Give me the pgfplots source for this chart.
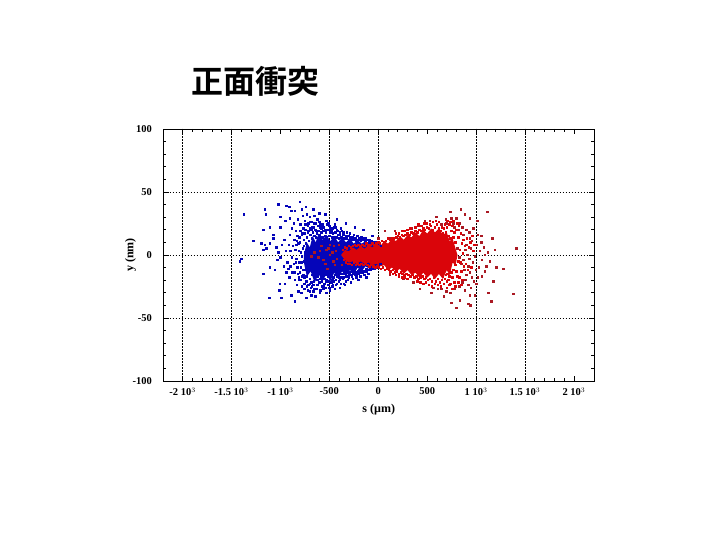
\documentclass[border=0pt]{standalone}
\usepackage{fontspec}
\setmainfont{Liberation Serif}
\newfontfamily\cjk{Noto Sans CJK JP}[BoldFont=* Bold]
\usepackage{pgfplots}
\pgfplotsset{compat=1.18}
\definecolor{bluepts}{RGB}{5,5,185}
\definecolor{redpts}{RGB}{218,5,10}
\definecolor{redrim}{RGB}{170,25,35}
\pgfplotsset{pts/.style={only marks,color=#1,mark=square*,mark size=0.75bp,mark options={line width=0pt,solid}}}
\begin{document}
\begin{tikzpicture}[x=1bp,y=1bp]
\path[fill=white] (0,0) rectangle (720,540);
\node[anchor=center,font=\cjk\bfseries\fontsize{32bp}{32bp}\selectfont] at (255.5,458.5) {正面衝突};
\begin{axis}[
  at={(163.5bp,159bp)},anchor=south west,
  scale only axis,width=430.5bp,height=252bp,
  xmin=-2195,xmax=2205,ymin=-100,ymax=100,
  axis line style={line width=0.9pt},
  xtick={-2000,-1500,-1000,-500,0,500,1000,1500,2000},
  xticklabels={-2 10$^3$,-1.5 10$^3$,-1 10$^3$,-500,0,500,1 10$^3$,1.5 10$^3$,2 10$^3$},
  ytick={-100,-50,0,50,100},
  yticklabels={-100,-50,0,50,100},
  minor x tick num=4,minor y tick num=4,
  tick align=inside,tick pos=both,
  major tick length=5bp,minor tick length=2.8bp,
  tick style={black,line width=0.7pt},
  extra x ticks={-2000,-1500,-500,0,1000,1500},
  extra x tick labels={},
  extra x tick style={grid=major},
  ymajorgrids,
  grid style={black,line width=0.7pt,dash pattern=on 1.5bp off 1.5bp},
  ticklabel style={font=\bfseries\fontsize{10.5bp}{11bp}\selectfont},
  xticklabel style={yshift=-3bp},
  yticklabel style={xshift=-8bp},
  xlabel={s (µm)},ylabel={y (nm)},
  label style={font=\bfseries\fontsize{12bp}{13bp}\selectfont},
  xlabel style={at={(axis description cs:0.5,0)},anchor=center,yshift=-29bp},
  ylabel style={at={(axis description cs:0,0.5)},anchor=center,yshift=33bp},
  clip=true,
]
% dense blue body
\addplot[fill=bluepts,draw=none] coordinates {(-760,0)(-730,10)(-700,6)(-670,15)(-640,10)(-610,17)(-570,12)(-530,16)(-490,11)(-450,15)(-410,10)(-370,14)(-330,10)(-290,13)(-250,9)(-210,12)(-170,9)(-130,11)(-90,8)(-50,10)(-10,7)(20,8)
(20,-7)(-10,-9)(-50,-8)(-90,-11)(-130,-9)(-170,-13)(-210,-10)(-250,-15)(-290,-12)(-330,-17)(-370,-13)(-410,-19)(-450,-14)(-490,-21)(-530,-15)(-570,-21)(-610,-15)(-650,-22)(-690,-13)(-730,-17)(-760,-6)} -- cycle;
% blue points
\addplot[pts=bluepts] coordinates {
(-1373,32)(-1158,36)(-1022,40)(-937,39)(-909,38)(-800,42)(-739,38)(-885,35)(-851,35)(-1148,32)
(-1175,20)(-1107,22)(-998,22)(-1073,16)(-1073,13)(-1192,9)(-1158,8)(-1277,11)(-1107,9)(-1175,4)
(-1141,5)(-1397,-3)(-1414,-5)(-1175,-15)(-1107,-10)(-1056,-12)(-1114,-34)(-988,-34)(-1012,-28)(-954,-23)
(-1005,-23)(-886,-32)(-851,-37)(-817,-29)(-783,-30)(-732,-34)(-681,-32)(-596,-30)(-494,-28)(-391,-26)
(-1040,6)(-1020,2)(-1000,-2)(-1030,-4)(-985,8)(-960,12)(-945,3)(-930,-6)(-965,-9)(-940,-14)
(-905,-18)(-920,-11)(-900,16)(-880,21)(-860,25)(-840,19)(-820,28)(-795,24)(-770,31)(-750,27)
(-720,23)(-700,30)(-680,26)(-650,31)(-620,28)(-590,24)(-560,22)(-530,27)(-500,23)(-470,21)
(-440,24)(-410,19)(-380,21)(-350,18)(-320,18)(-290,17)(-250,16)(-210,15)(-170,14)(-130,13)
(-90,12)(-910,8)(-895,3)(-880,-2)(-870,7)(-860,-7)(-855,12)(-845,4)(-835,-3)(-825,-10)
(-815,9)(-805,14)(-800,-14)(-790,2)(-785,-6)(-775,17)(-770,-12)(-760,7)(-755,-18)(-745,20)
(-740,-3)(-735,-21)(-725,-9)(-720,18)(-715,-24)(-700,21)(-690,-26)(-670,22)(-660,-24)(-640,20)
(-630,-27)(-610,23)(-600,-22)(-580,21)(-570,-25)(-550,-23)(-530,-21)(-510,-24)(-480,-22)(-450,-21)
(-420,-23)(-390,-20)(-360,-19)(-330,-21)(-300,-18)(-270,-17)(-240,-16)(-200,-15)(-160,-14)(-120,-13)
(-80,-12)(-40,-11)(-895,-9)(-875,-14)(-850,-20)(-830,-24)(-810,-20)(-780,-25)(-755,-27)(-720,-28)
(-660,-29)(-640,-33)(-560,-27)(-530,-30)(-440,-27)(-340,-24)(-280,-22)(-200,-20)(-120,-18)(-1000,30)
(-950,27)(-900,29)(-780,36)(-730,32)(-660,36)(-600,33)(-540,32)(-420,28)(-330,25)(-240,22)
(-150,20)(-60,15)
(-830,11)(-812,3)(-806,-6)(-798,10)(-790,-10)(-782,16)(-778,-1)(-770,5)(-765,-16)(-760,12)
(-755,-5)(-750,17)(-746,2)(-742,-12)(-738,9)(-733,-17)(-730,14)(-726,-2)(-722,6)(-718,-14)
(-714,19)(-710,-7)(-706,11)(-702,1)(-698,-19)(-694,16)(-690,-11)(-686,5)(-682,-4)(-678,13)
(-674,-16)(-670,8)(-666,18)(-662,-8)(-658,-21)(-654,3)(-650,15)(-646,-18)(-642,-11)(-638,19)
(-634,14)(-630,-16)(-626,17)(-622,-20)(-618,13)(-614,-17)(-610,19)(-604,-15)(-600,16)(-596,-19)
(-590,14)(-586,-17)(-580,18)(-574,-21)(-570,14)(-564,-16)(-558,19)(-552,-19)(-546,15)(-540,-16)
(-534,18)(-528,-20)(-522,14)(-516,-17)(-510,20)(-504,-21)(-498,15)(-492,-18)(-486,18)(-480,-16)
(-474,14)(-468,-20)(-462,17)(-456,-18)(-450,14)(-444,-16)(-438,18)(-432,-20)(-426,14)(-420,-17)
(-414,16)(-408,-15)(-402,13)(-396,-18)(-390,16)(-384,-15)(-378,14)(-372,-18)(-366,13)(-360,-15)
(-354,16)(-348,-18)(-342,13)(-336,-15)(-330,15)(-324,-17)(-318,13)(-312,-14)(-306,15)(-300,-16)
(-294,12)(-288,-14)(-282,14)(-276,-16)(-270,12)(-264,-13)(-258,14)(-252,-15)(-246,12)(-240,-13)
(-234,13)(-228,-14)(-222,11)(-216,-16)(-210,12)(-204,-13)(-198,13)(-192,-12)(-186,12)(-180,-14)
(-174,11)(-168,-12)(-162,13)(-156,-14)(-150,12)(-140,-13)(-130,11)(-120,-11)(-110,12)(-100,-12)
(-90,10)(-80,-10)(-70,11)(-60,-11)(-50,10)(-40,-9)(-30,10)(-20,-10)(-10,9)(0,-9)(10,10)(25,-7)(30,7)
(-850,-14)(-842,-6)(-835,8)(-825,15)(-818,-15)(-808,-18)(-796,19)(-788,-20)(-776,-17)(-766,21)(-752,-23)(-742,24)(-728,-25)(-712,25)(-696,-23)(-676,-25)(-656,25)(-636,25)(-616,-24)(-592,22)(-576,-20)(-556,-25)(-518,24)(-492,21)(-462,-24)(-430,22)(-400,-21)(-370,19)
(-700,26)(-680,20)(-660,22)(-620,19)(-600,26)(-570,24)(-540,20)(-510,25)(-480,19)(-450,22)(-420,20)(-390,18)(-360,17)
(-700,-29)(-680,-22)(-650,-27)(-625,-24)(-590,-28)(-540,-26)(-500,-26)(-470,-25)(-430,-24)(-380,-23)(-350,-23)(-310,-20)(-260,-19)(-220,-18)(-180,-17)(-140,-16)(-100,-15)
};
% dense red body
\addplot[fill=redpts,draw=none] coordinates {(-380,0)(-340,4)(-300,3)(-260,6)(-220,4)(-180,7)(-140,5)(-100,8)(-60,6)(-20,9)(20,7)(60,11)(100,9)(140,13)(180,11)(220,15)(260,12)(300,16)(340,14)(380,18)(420,15)(460,20)(500,17)(540,21)(580,18)(620,21)(660,16)(700,18)(730,11)(760,13)(790,5)(810,0)
(790,-8)(760,-6)(730,-16)(700,-12)(660,-19)(620,-15)(580,-19)(540,-15)(500,-18)(460,-14)(420,-18)(380,-14)(340,-16)(300,-12)(260,-15)(220,-11)(180,-13)(140,-10)(100,-12)(60,-8)(20,-9)(-20,-7)(-60,-8)(-100,-6)(-140,-7)(-180,-5)(-220,-7)(-260,-5)(-300,-6)(-340,-4)} -- cycle;
% red points
\addplot[pts=redrim] coordinates {
(740,34)(845,36)(1115,34)(597,30)(477,27)(528,27)(409,23)(341,21)(171,19)(68,19)
(0,13)(119,13)(188,14)(801,29)(886,32)(835,25)(767,25)(699,25)(648,24)(937,29)
(1012,27)(971,21)(1057,15)(1169,13)(1057,10)(1193,4)(1006,8)(937,13)(903,8)(869,16)
(1415,5)(1040,3)(1091,0)(1142,-5)(1210,-10)(1278,-11)(1108,-9)(1091,-13)(1176,-21)(1006,-23)
(920,-24)(886,-28)(937,-32)(1380,-31)(1159,-37)(1125,-30)(989,-32)(835,-36)(750,-38)(801,-42)
(920,-39)(944,-40)(699,-29)(648,-27)(563,-26)(545,-30)(426,-27)(358,-22)(119,-16)(256,-19)
(-596,3)(-528,4)(-494,0)(-562,-4)(-460,-5)(-681,-1)(-494,8)(-430,3)(-420,-3)(-650,2)
(-610,-2)(-580,7)(-540,-7)(-510,5)(-470,2)(-450,7)(-440,-8)(-520,-11)(-400,8)(-370,-8)
(690,28)(750,29)(780,22)(820,20)(860,22)(900,20)(930,18)(960,11)(1020,16)(1080,6)
(1120,2)(1060,-4)(1030,-10)(1060,-17)(780,-27)(740,-30)(830,-25)(860,-22)(890,-20)(950,-26)
(1020,-18)(610,-27)(670,-33)(810,5)(830,-2)(850,-7)(870,-4)(890,4)(910,0)(930,-3)
(950,5)(970,-6)(990,-1)(880,-12)(900,-16)(920,-9)(940,-14)(960,-18)(980,-21)(1000,-12)
};
\addplot[pts=redpts] coordinates {
(-360,4)(-350,-4)(-340,6)(-330,-6)(-320,5)(-310,-7)(-300,7)(-290,-7)(-280,6)(-270,-8)(-260,7)(-250,-6)(-240,8)(-230,-8)(-220,7)(-210,-7)(-200,8)(-190,-8)(-180,7)(-170,-7)(-160,8)(-150,-8)(-140,7)(-130,-7)(-120,9)(-110,-8)(-100,8)(-90,-9)(-80,8)(-70,-8)(-60,9)(-50,-9)(-40,8)(-30,-10)(-20,9)(-10,-9)(0,10)(10,-10)(20,9)(30,-11)(40,11)(50,-10)(60,10)(70,-12)(80,11)(90,-11)(100,13)(110,-12)(120,12)(130,-13)(140,13)(150,-12)(160,13)(170,-14)(180,14)(190,-13)(200,15)(210,-15)(220,14)(230,-14)(240,16)(250,-15)(260,15)(270,-16)(280,16)(290,-15)(300,17)(310,-16)(320,16)(330,-17)(340,18)(350,-16)(360,17)(370,-18)(380,19)(390,-17)(400,18)(410,-19)(420,20)(430,-18)(440,19)(450,-17)(460,21)(470,-19)(480,20)(490,-18)(500,22)(510,-20)(520,21)(530,-19)(540,23)(550,-21)(560,20)(570,-18)(580,22)(590,-21)(600,24)(610,-19)(620,21)(630,-22)(640,19)(650,-20)
(660,-17)(670,-13)(680,-19)(690,-16)(700,-21)(710,-15)(720,-20)(730,-17)(740,-23)(750,-14)(760,-18)(770,-12)(780,-22)(790,-8)(800,-13)(810,-17)(820,-5)(660,17)(670,21)(680,13)(690,18)(700,22)(710,11)(720,15)(730,24)(740,13)(750,19)(760,23)(770,14)(780,18)(790,10)(800,20)(810,25)(820,14)
(825,23)(830,-18)(835,4)(840,-6)(845,17)(850,-13)(855,9)(860,-20)(865,1)(870,12)(875,-9)(885,7)(895,-7)(905,13)(915,-12)(925,6)(945,10)(955,-10)(975,3)(965,15)(985,8)
(380,22)(410,24)(440,23)(470,25)(500,25)(530,24)(560,26)(590,27)(620,26)(650,22)(680,24)(710,27)(740,26)(770,27)
(400,-21)(430,-22)(460,-23)(490,-22)(520,-24)(550,-25)(580,-23)(610,-24)(640,-25)(670,-23)(700,-26)(730,-24)(760,-27)(790,-25)(820,-22)(850,-24)
(300,20)(330,21)(270,19)(240,19)(210,17)(180,17)(300,-19)(270,-18)(240,-18)(210,-17)(180,-16)(150,-15)(120,-14)
};
\end{axis}
\end{tikzpicture}
\end{document}
